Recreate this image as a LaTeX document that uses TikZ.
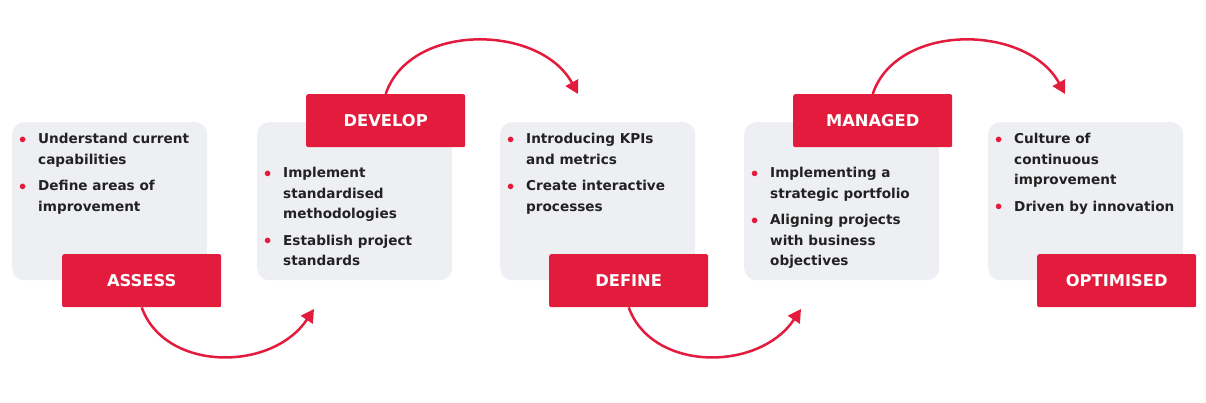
\documentclass[tikz,border=0pt]{standalone}
\usepackage{fontspec}
\setmainfont{DejaVu Sans}
\usetikzlibrary{arrows.meta}
\definecolor{ired}{HTML}{E31B3C}
\definecolor{igray}{HTML}{EEEFF2}
\definecolor{itext}{HTML}{222222}
\tikzset{
  card/.style={fill=igray,rounded corners=12pt,minimum width=195pt,minimum height=158pt,anchor=north west,inner sep=0pt},
  tag/.style={fill=ired,rounded corners=2pt,minimum width=159pt,minimum height=53pt,anchor=north west,text=white,font=\fontsize{16.3}{18}\selectfont\bfseries,inner sep=0pt},
  body/.style={anchor=north west,text=itext,font=\fontsize{13.6}{20.5}\selectfont\bfseries,align=left,inner sep=0pt},
  arc/.style={ired,line width=2.5pt,-{Triangle[length=13pt,width=14pt]}}
}
\newcommand{\bl}{\makebox[19pt][l]{\textcolor{ired}{\raisebox{0.5pt}{$\bullet$}}}}
\newcommand{\itm}[2]{\bl #1\\\hspace*{19pt}#2}
\begin{document}
\begin{tikzpicture}[x=1pt,y=-1pt]
\useasboundingbox (0,0) rectangle (1206,402);
\node[card] (c1) at (12,122) {};
\node[card] (c2) at (257,122) {};
\node[card] (c3) at (500,122) {};
\node[card] (c4) at (744,122) {};
\node[card] (c5) at (988,122) {};
\node[tag] (t1) at (62,254) {ASSESS};
\node[tag] (t2) at (306,94) {DEVELOP};
\node[tag] (t3) at (549,254) {DEFINE};
\node[tag] (t4) at (793,94) {MANAGED};
\node[tag] (t5) at (1037,254) {OPTIMISED};
\node[body] (b1) at (19,133) {\itm{Understand current}{capabilities}\\[6pt]\itm{Define areas of}{improvement}};
\node[body] (b2) at (264,167) {\itm{Implement}{standardised}\\\hspace*{19pt}methodologies\\[6pt]\itm{Establish project}{standards}};
\node[body] (b3) at (507,133) {\itm{Introducing KPIs}{and metrics}\\[6pt]\itm{Create interactive}{processes}};
\node[body] (b4) at (751,167) {\itm{Implementing a}{strategic portfolio}\\[6pt]\itm{Aligning projects}{with business}\\\hspace*{19pt}objectives};
\node[body] (b5) at (995,133) {\itm{Culture of}{continuous}\\\hspace*{19pt}improvement\\[6pt]\bl Driven by innovation};
\coordinate (e1) at (314,309);
\coordinate (e2) at (578,94);
\coordinate (e3) at (801,309);
\coordinate (e4) at (1065,94);
\draw[arc] (t1.south) .. controls (165,372) and (272,372) .. (e1);
\draw[arc] (t2.north) .. controls (410,22) and (540,24) .. (e2);
\draw[arc] (t3.south) .. controls (652,372) and (759,372) .. (e3);
\draw[arc] (t4.north) .. controls (897,22) and (1027,24) .. (e4);
\end{tikzpicture}
\end{document}
